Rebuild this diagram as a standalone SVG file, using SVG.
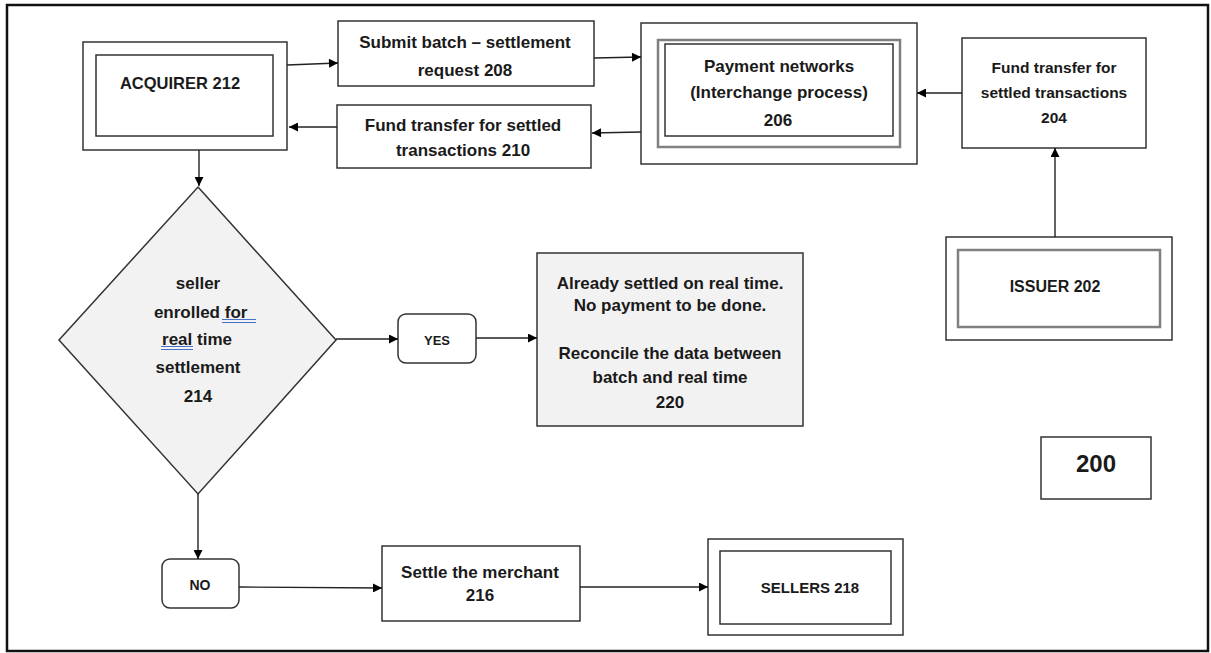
<svg xmlns="http://www.w3.org/2000/svg" width="1211" height="653" viewBox="0 0 1211 653">
<defs>
<marker id="ah" viewBox="0 0 10 10" refX="10" refY="5" markerWidth="11" markerHeight="9" markerUnits="userSpaceOnUse" orient="auto"><path d="M0,0 L10,5 L0,10 z" fill="#000"/></marker>
</defs>
<style>
.box{fill:#fff;stroke:#333;stroke-width:1.5}
.grey{fill:#f2f2f2;stroke:#333;stroke-width:1.5}
.gl{fill:none;stroke:#808080;stroke-width:2.5}
.t{font-family:"Liberation Sans",Arial,sans-serif;font-weight:bold;fill:#1a1a1a;text-anchor:middle}
.c{fill:none;stroke:#222;stroke-width:1.4;marker-end:url(#ah)}
.ul{stroke:#4472c4;stroke-width:1}
</style>
<rect x="7" y="5" width="1201" height="646" fill="#fff" stroke="#111" stroke-width="2.5"/>
<g id="acquirer">
<rect class="box" x="83" y="42" width="204" height="108"/>
<rect class="box" x="96" y="55" width="177" height="81"/>
<text class="t" x="180" y="89" font-size="16.5">ACQUIRER 212</text>
</g>
<g id="submit208">
<rect class="box" x="338" y="21" width="256" height="65"/>
<text class="t" x="465" y="48" font-size="17">Submit batch – settlement</text>
<text class="t" x="465" y="76" font-size="17">request 208</text>
</g>
<g id="fund210">
<rect class="box" x="337" y="105" width="254" height="63"/>
<text class="t" x="463" y="131" font-size="17">Fund transfer for settled</text>
<text class="t" x="463" y="156" font-size="17">transactions 210</text>
</g>
<g id="payment206">
<rect class="box" x="641" y="23" width="276" height="141"/>
<rect class="gl" x="658" y="40" width="242" height="107"/>
<rect class="box" x="665" y="44" width="228" height="92"/>
<text class="t" x="779" y="72" font-size="17">Payment networks</text>
<text class="t" x="779" y="98" font-size="17">(Interchange process)</text>
<text class="t" x="778" y="126" font-size="17">206</text>
</g>
<g id="fund204">
<rect class="box" x="962" y="38" width="184" height="110"/>
<text class="t" x="1054" y="73" font-size="15.5">Fund transfer for</text>
<text class="t" x="1054" y="98" font-size="15.5">settled transactions</text>
<text class="t" x="1054" y="123" font-size="15.5">204</text>
</g>
<g id="issuer202">
<rect class="box" x="946" y="237" width="226" height="103"/>
<rect class="gl" x="958" y="250" width="202" height="77"/>
<text class="t" x="1055" y="292" font-size="16">ISSUER 202</text>
</g>
<g id="decision214">
<polygon class="grey" points="198,187 336,340 198,494 59,340"/>
<text class="t" x="198" y="289" font-size="17">seller</text>
<text class="t" x="203" y="318" font-size="17" xml:space="preserve">enrolled for </text>
<text class="t" x="197" y="345" font-size="17">real time</text>
<text class="t" x="198" y="373" font-size="17">settlement</text>
<text class="t" x="198" y="402" font-size="17">214</text>
<line class="ul" x1="222" y1="319.5" x2="256" y2="319.5"/>
<line class="ul" x1="222" y1="322.5" x2="256" y2="322.5"/>
<line class="ul" x1="161" y1="346.5" x2="193" y2="346.5"/>
<line class="ul" x1="161" y1="349.5" x2="193" y2="349.5"/>
</g>
<g id="yes">
<rect class="box" x="398" y="314" width="78" height="49" rx="8"/>
<text class="t" x="437" y="345" font-size="13">YES</text>
</g>
<g id="settled220">
<rect class="grey" x="537" y="253" width="266" height="173"/>
<text class="t" x="670" y="289" font-size="17">Already settled on real time.</text>
<text class="t" x="670" y="311" font-size="17">No payment to be done.</text>
<text class="t" x="670" y="359" font-size="17">Reconcile the data between</text>
<text class="t" x="670" y="383" font-size="17">batch and real time</text>
<text class="t" x="670" y="408" font-size="17">220</text>
</g>
<g id="no">
<rect class="box" x="162" y="559" width="77" height="49" rx="8"/>
<text class="t" x="200" y="590" font-size="14">NO</text>
</g>
<g id="settle216">
<rect class="box" x="382" y="546" width="198" height="75"/>
<text class="t" x="480" y="578" font-size="17">Settle the merchant</text>
<text class="t" x="480" y="601" font-size="17">216</text>
</g>
<g id="sellers218">
<rect class="box" x="708" y="539" width="195" height="96"/>
<rect class="box" x="720" y="551" width="171" height="73"/>
<text class="t" x="810" y="593" font-size="15">SELLERS 218</text>
</g>
<g id="label200">
<rect class="box" x="1041" y="437" width="110" height="62"/>
<text class="t" x="1096" y="472" font-size="24">200</text>
</g>
<g id="connectors">
<line class="c" x1="287" y1="65" x2="338" y2="63"/>
<line class="c" x1="594" y1="58" x2="641" y2="57"/>
<line class="c" x1="962" y1="93" x2="917" y2="93"/>
<line class="c" x1="1055" y1="237" x2="1055" y2="148"/>
<line class="c" x1="641" y1="132" x2="592" y2="133"/>
<line class="c" x1="337" y1="127" x2="289" y2="127"/>
<line class="c" x1="199" y1="150" x2="199" y2="186"/>
<line class="c" x1="336" y1="339" x2="398" y2="339"/>
<line class="c" x1="476" y1="338" x2="537" y2="338"/>
<line class="c" x1="198" y1="494" x2="198" y2="559"/>
<line class="c" x1="239" y1="587" x2="382" y2="588"/>
<line class="c" x1="580" y1="587" x2="708" y2="587"/>
</g>
</svg>
